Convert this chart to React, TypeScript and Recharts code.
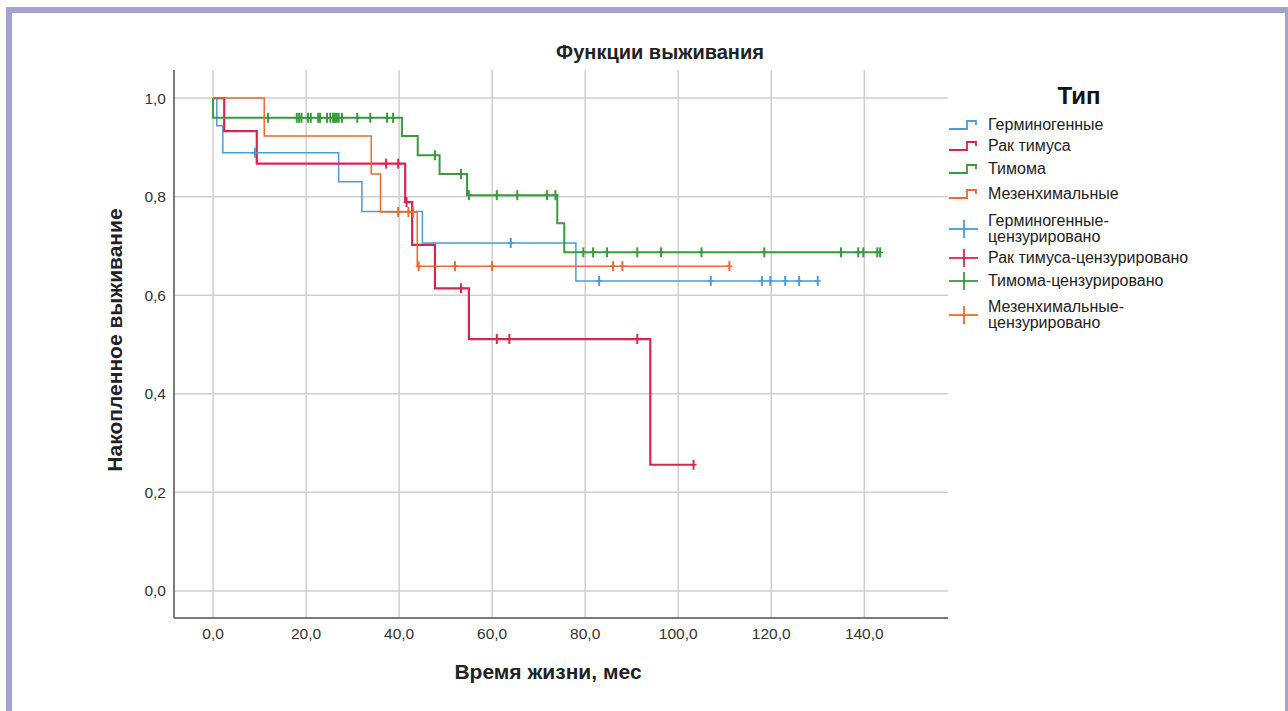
import { CartesianGrid, ComposedChart, Line, Scatter, XAxis, YAxis } from "recharts";

// time (months) / cumulative survival step points
const germT = [0, 0.8, 2.1, 27, 32, 45, 78, 130];
const germS = [1, 0.944, 0.889, 0.83, 0.77, 0.706, 0.629, 0.629];
const germCens = [9, 64, 83, 107, 118, 119.8, 123, 126, 130];

const rakT = [0, 2.4, 9.4, 41.3, 42.8, 47.7, 55, 94, 103.5];
const rakS = [1, 0.933, 0.867, 0.789, 0.702, 0.614, 0.511, 0.256, 0.256];
const rakCens = [37.2, 39.8, 41.6, 53.3, 61, 63.7, 91.2, 103.3];

const timT = [0, 0, 40.6, 44, 48.7, 54.6, 74, 75.5, 143.5];
const timS = [1, 0.96, 0.923, 0.884, 0.846, 0.803, 0.746, 0.687, 0.687];
const timCens = [
  11.8, 18, 18.5, 19, 20.4, 21, 22.6, 23, 24.5, 25.2, 25.8, 26.2, 26.6, 27, 27.7, 31, 33.8, 37.4, 38.7,
  47.7, 53.3, 55, 61, 65.4, 71.8, 73.6, 79.6, 81.7, 84.7, 91.2, 96.3, 105, 118.5, 135, 138.7, 139.8, 142.8, 143.4,
];

const mezT = [0, 11, 34, 36, 43.9, 111];
const mezS = [1, 0.923, 0.846, 0.769, 0.659, 0.659];
const mezCens = [39.8, 42, 43, 44.2, 52, 60, 86, 88, 111];

const xTicks = [0, 20, 40, 60, 80, 100, 120, 140];
const yTicks = [0, 0.2, 0.4, 0.6, 0.8, 1.0];

const BLUE = "#4d9bd8";
const RED = "#d8264f";
const GREEN = "#3a9a3e";
const ORANGE = "#ee6b2d";
const FONT = "'Liberation Sans', Arial, sans-serif";

const steps = (t: number[], s: number[]) => t.map((tv, i) => ({ t: tv, s: s[i] }));
const marks = (t: number[], s: number[], cens: number[]) =>
  cens.map((c) => {
    let v = s[0];
    t.forEach((tv, i) => { if (tv <= c) v = s[i]; });
    return { t: c, s: v };
  });

const comma = (v: number, d: number) => v.toFixed(d).replace(".", ",");

const plus = (color: string) => (p: any) => (
  <g>
    <line x1={p.cx} x2={p.cx} y1={p.cy - 5} y2={p.cy + 5} stroke={color} strokeWidth={2} />
    <line x1={p.cx - 3} x2={p.cx + 3} y1={p.cy} y2={p.cy} stroke={color} strokeWidth={1.5} />
  </g>
);

const series = [
  { name: "Герминогенные", t: germT, s: germS, cens: germCens, color: BLUE, w: 1.5 },
  { name: "Рак тимуса", t: rakT, s: rakS, cens: rakCens, color: RED, w: 2.2 },
  { name: "Тимома", t: timT, s: timS, cens: timCens, color: GREEN, w: 2 },
  { name: "Мезенхимальные", t: mezT, s: mezS, cens: mezCens, color: ORANGE, w: 1.5 },
];

const legendRows = [
  { label: ["Герминогенные"], color: BLUE, kind: "step", y: 125 },
  { label: ["Рак тимуса"], color: RED, kind: "step", y: 146 },
  { label: ["Тимома"], color: GREEN, kind: "step", y: 169 },
  { label: ["Мезенхимальные"], color: ORANGE, kind: "step", y: 194 },
  { label: ["Герминогенные-", "цензурировано"], color: BLUE, kind: "cens", y: 229 },
  { label: ["Рак тимуса-цензурировано"], color: RED, kind: "cens", y: 258 },
  { label: ["Тимома-цензурировано"], color: GREEN, kind: "cens", y: 281 },
  { label: ["Мезенхимальные-", "цензурировано"], color: ORANGE, kind: "cens", y: 315 },
];

const LH = 16;

export default function App() {
  return (
    <div style={{ position: "relative", width: 1288, height: 711, background: "#fff", fontFamily: FONT, overflow: "hidden" }}>
      <style>{"body{margin:0}"}</style>
      <div style={{ position: "absolute", left: 6, top: 7, width: 1282, height: 6, background: "#a3a3d0" }} />
      <div style={{ position: "absolute", left: 6, top: 7, width: 6, height: 704, background: "#a3a3d0" }} />
      <div style={{ position: "absolute", left: 1285, top: 7, width: 3, height: 704, background: "#a3a3d0" }} />

      <div style={{ position: "absolute", left: 0, width: 1320, top: 40, textAlign: "center", fontSize: 20, fontWeight: "bold", color: "#222", lineHeight: "24px" }}>
        Функции выживания
      </div>
      <div style={{ position: "absolute", left: 0, width: 1096, top: 659, textAlign: "center", fontSize: 21, fontWeight: "bold", color: "#222", lineHeight: "26px" }}>
        Время жизни, мес
      </div>
      <div
        style={{
          position: "absolute", left: 115, top: 340, width: 400, textAlign: "center", fontSize: 21, fontWeight: "bold",
          color: "#222", transform: "translate(-50%, -50%) rotate(-90deg)", lineHeight: "24px",
        }}
      >
        Накопленное выживание
      </div>

      <div style={{ position: "absolute", left: 0 }}>
        <ComposedChart width={1288} height={711} margin={{ top: 70, right: 340, bottom: 63, left: 114 }}>
          <CartesianGrid stroke="#cfcfcf" strokeWidth={1.5} horizontalValues={yTicks} verticalValues={xTicks} />
          <XAxis
            type="number" dataKey="t" domain={[-8.4, 158]} ticks={xTicks} allowDataOverflow height={30}
            tickFormatter={(v: number) => comma(v, 1)} tickLine={false} tickMargin={4}
            axisLine={{ stroke: "#7a7a7a", strokeWidth: 2 }}
            tick={{ fontSize: 15.5, fill: "#333", fontFamily: FONT }}
          />
          <YAxis
            type="number" dataKey="s" domain={[-0.055, 1.057]} ticks={yTicks} allowDataOverflow width={60}
            tickFormatter={(v: number) => comma(v, 1)} tickLine={false}
            axisLine={{ stroke: "#7a7a7a", strokeWidth: 2 }}
            tick={{ fontSize: 15.5, fill: "#333", fontFamily: FONT }}
          />
          {series.map((sr) => (
            <Line
              key={sr.name} data={steps(sr.t, sr.s)} dataKey="s" type="stepAfter" stroke={sr.color}
              strokeWidth={sr.w} dot={false} isAnimationActive={false}
            />
          ))}
          {series.map((sr) => (
            <Scatter
              key={sr.name + "-c"} data={marks(sr.t, sr.s, sr.cens)} dataKey="s"
              shape={plus(sr.color)} isAnimationActive={false}
            />
          ))}
        </ComposedChart>
      </div>

      <div style={{ position: "absolute", left: 1079, top: 82, transform: "translateX(-50%)", fontSize: 24, fontWeight: "bold", color: "#111", lineHeight: "28px" }}>
        Тип
      </div>
      {legendRows.map((r) => (
        <div key={r.label.join()} style={{ position: "absolute", left: 946, top: r.y - (r.label.length * LH) / 2, height: r.label.length * LH }}>
          <svg width={36} height={30} style={{ position: "absolute", left: 0, top: (r.label.length * LH) / 2 - 15 }}>
            {r.kind === "step" ? (
              <path d="M3 19 H21 V11 H30 V15" fill="none" stroke={r.color} strokeWidth={1.8} />
            ) : (
              <g>
                <line x1={3} x2={32} y1={15} y2={15} stroke={r.color} strokeWidth={1.8} />
                <line x1={18} x2={18} y1={6} y2={24} stroke={r.color} strokeWidth={1.8} />
              </g>
            )}
          </svg>
          <div style={{ position: "absolute", left: 42, top: 0, fontSize: 16, lineHeight: `${LH}px`, color: "#222", whiteSpace: "nowrap" }}>
            {r.label.map((l) => <div key={l}>{l}</div>)}
          </div>
        </div>
      ))}
    </div>
  );
}
